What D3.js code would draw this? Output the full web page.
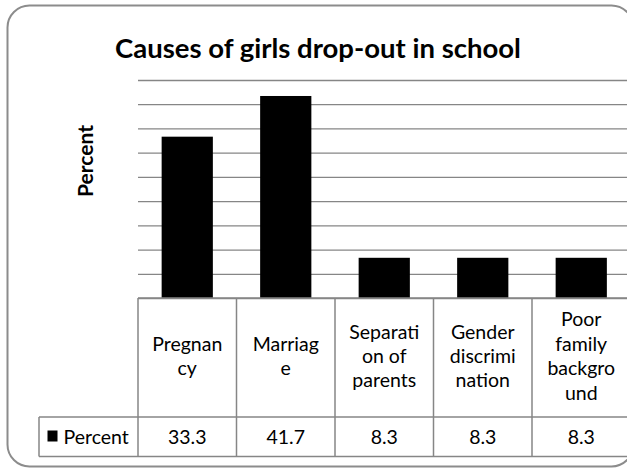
<!DOCTYPE html>
<html>
<head>
<meta charset="utf-8">
<script src="https://cdn.jsdelivr.net/npm/d3@7"></script>
<style>
  html, body { margin: 0; padding: 0; background: #fff; }
  svg { display: block; }
  text { font-family: Lato, "Open Sans", sans-serif; fill: #000; }
</style>
</head>
<body>
<svg id="chart" width="627" height="469"></svg>
<script>
// ---- data ----
const title = "Causes of girls drop-out in school";
const yTitle = "Percent";
const seriesName = "Percent";
const categories = ["Pregnancy", "Marriage", "Separation of parents", "Gender discrimination", "Poor family background"];
const labelLines = [["Pregnan", "cy"], ["Marriag", "e"], ["Separati", "on of", "parents"], ["Gender", "discrimi", "nation"], ["Poor", "family", "backgro", "und"]];
const percent = [33.3, 41.7, 8.3, 8.3, 8.3];
const valueLabels = ["33.3", "41.7", "8.3", "8.3", "8.3"];
const yTicks = [0, 5, 10, 15, 20, 25, 30, 35, 40, 45];

// ---- layout ----
const svg = d3.select("#chart");
const plotLeft = 138, plotRight = 630.5, plotTop = 80, plotBottom = 298;
const tableMid = 417, tableBottom = 456.5, legendLeft = 39;
const gridColor = "#868686";

svg.append("rect")
  .attr("x", 7.5).attr("y", 5.5).attr("width", 626).attr("height", 461)
  .attr("rx", 22).attr("ry", 22)
  .attr("fill", "#fff").attr("stroke", "#8c8c8c").attr("stroke-width", 2);

const x = d3.scaleBand().domain(categories).range([plotLeft, plotRight]).paddingInner(0).paddingOuter(0);
const xBar = d3.scaleBand().domain(categories).range([plotLeft, plotRight]).paddingInner(0.48).paddingOuter(0.24);
const y = d3.scaleLinear().domain([0, 45]).range([plotBottom, plotTop]);

// gridlines
const grid = svg.append("g")
  .attr("transform", `translate(${plotLeft},0)`)
  .call(d3.axisLeft(y).tickValues(yTicks).tickSize(-(plotRight - plotLeft)).tickFormat(""));
grid.select(".domain").remove();
grid.selectAll(".tick line").attr("stroke", gridColor).attr("stroke-width", 1.3);

// bars
svg.append("g").selectAll("rect")
  .data(categories)
  .join("rect")
  .attr("x", d => xBar(d))
  .attr("width", xBar.bandwidth())
  .attr("y", (d, i) => y(percent[i]))
  .attr("height", (d, i) => y(0) - y(percent[i]))
  .attr("fill", "#000");

// title
svg.append("text")
  .attr("x", 318).attr("y", 57.5)
  .attr("text-anchor", "middle")
  .attr("font-size", 27.5).attr("font-weight", "bold")
  .text(title);

// y title
svg.append("text")
  .attr("transform", "translate(93,161) rotate(-90)")
  .attr("text-anchor", "middle")
  .attr("font-size", 21).attr("font-weight", "bold")
  .text(yTitle);

// data table
const table = svg.append("g").attr("fill", "none").attr("stroke", gridColor).attr("stroke-width", 1.5);
const bounds = categories.map(c => x(c)).concat([plotRight]);
bounds.forEach(bx => {
  table.append("line").attr("x1", bx).attr("x2", bx).attr("y1", plotBottom).attr("y2", tableBottom);
});
table.append("line").attr("x1", legendLeft).attr("x2", legendLeft).attr("y1", tableMid).attr("y2", tableBottom);
table.append("line").attr("x1", plotLeft).attr("x2", plotRight).attr("y1", plotBottom).attr("y2", plotBottom);
table.append("line").attr("x1", legendLeft).attr("x2", plotRight).attr("y1", tableMid).attr("y2", tableMid);
table.append("line").attr("x1", legendLeft).attr("x2", plotRight).attr("y1", tableBottom).attr("y2", tableBottom);

// category labels
const lh = 24.4;
const catG = svg.append("g");
categories.forEach((c, i) => {
  const lines = labelLines[i];
  const n = lines.length;
  const t = catG.append("text")
    .attr("text-anchor", "middle")
    .attr("font-size", 19.5);
  lines.forEach((ln, j) => {
    t.append("tspan")
      .attr("x", x(c) + x.bandwidth() / 2)
      .attr("y", 363 + (j - (n - 1) / 2) * lh)
      .text(ln);
  });
});

// value labels
svg.append("g").selectAll("text")
  .data(categories)
  .join("text")
  .attr("x", d => x(d) + x.bandwidth() / 2)
  .attr("y", 443.5)
  .attr("text-anchor", "middle")
  .attr("font-size", 19.5)
  .text((d, i) => valueLabels[i]);

// legend key
svg.append("rect").attr("x", 47.5).attr("y", 430.5).attr("width", 10).attr("height", 11).attr("fill", "#000");
svg.append("text").attr("x", 63.5).attr("y", 443.5).attr("font-size", 19.5).text(seriesName);
</script>
</body>
</html>
